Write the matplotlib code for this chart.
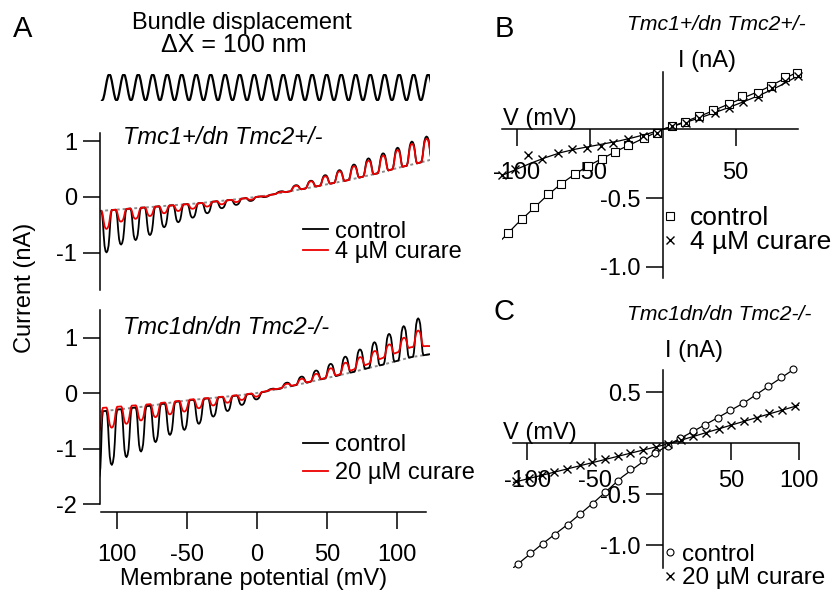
import numpy as np
import matplotlib
matplotlib.use("Agg")
import matplotlib.pyplot as plt

W, H = 840, 591

# ---------------------------------------------------------------
# Panel A, top traces (Tmc1+/dn Tmc2+/-): one entry per stimulus cycle
# cycle edges (mV), leak current at each edge (nA), extreme current of each cycle (nA)
top_edges = [-112.6, -102.3, -91.8, -81.5, -71.3, -61.2, -51.1, -40.6, -30.2, -19.8,
             -9.4, 0.9, 11.3, 22.2, 33.2, 43.6, 53.7, 64.0, 74.4, 84.8, 95.3, 105.5,
             115.8, 126.4]
top_leak = [-0.25, -0.23, -0.21, -0.19, -0.17, -0.15, -0.13, -0.11, -0.08, -0.055,
            -0.025, 0.005, 0.045, 0.095, 0.145, 0.195, 0.245, 0.295, 0.355, 0.415,
            0.485, 0.55, 0.61, 0.68]
top_control = [-0.99, -0.85, -0.77, -0.68, -0.54, -0.45, -0.37, -0.29, -0.20, -0.14,
               -0.07, 0.0, 0.10, 0.21, 0.29, 0.39, 0.48, 0.58, 0.69, 0.78, 0.88,
               0.99, 1.08]
top_curare = [-0.57, -0.44, -0.39, -0.34, -0.29, -0.25, -0.21, -0.17, -0.13, -0.09,
              -0.05, 0.01, 0.09, 0.20, 0.28, 0.37, 0.46, 0.55, 0.65, 0.74, 0.84,
              0.95, 1.04]

# Panel A, bottom traces (Tmc1dn/dn Tmc2-/-)
bot_edges = [-117.0, -109.0, -98.4, -88.0, -77.6, -67.2, -57.0, -46.6, -36.3, -26.0,
             -15.9, -5.5, 5.1, 15.8, 26.5, 37.0, 47.3, 57.8, 68.3, 78.7, 89.1, 99.6,
             110.0, 120.3, 130.0]
bot_leak = [-0.35, -0.32, -0.29, -0.26, -0.23, -0.19, -0.15, -0.12, -0.095, -0.07,
            -0.045, -0.015, 0.025, 0.08, 0.14, 0.20, 0.26, 0.32, 0.38, 0.45, 0.51,
            0.58, 0.65, 0.69, 0.73]
bot_leak_curare = [-0.28, -0.26, -0.24, -0.22, -0.20, -0.17, -0.14, -0.11, -0.09,
                   -0.065, -0.04, -0.01, 0.03, 0.085, 0.145, 0.205, 0.265, 0.33,
                   0.42, 0.52, 0.63, 0.73, 0.83, 0.85, 0.86]
bot_control = [-1.54, -1.29, -1.15, -1.05, -0.88, -0.75, -0.66, -0.55, -0.42, -0.32,
               -0.21, -0.11, 0.08, 0.19, 0.30, 0.41, 0.53, 0.66, 0.79, 0.92, 1.07,
               1.21, 1.35, 0.71]
bot_curare = [-0.69, -0.62, -0.55, -0.49, -0.43, -0.38, -0.33, -0.27, -0.22, -0.17,
              -0.12, -0.06, 0.07, 0.17, 0.26, 0.35, 0.45, 0.55, 0.65, 0.76, 0.88,
              1.00, 1.13, 0.85]

# shape of one current transient across a stimulus cycle (fraction of cycle, fraction of peak)
pulse_pos = [0.00, 0.14, 0.20, 0.25, 0.30, 0.36, 0.43, 0.50, 0.57, 0.64, 0.70, 0.75, 0.80, 0.86]
pulse_amp = [0.00, 0.00, 0.10, 0.30, 0.58, 0.84, 0.97, 1.00, 0.96, 0.84, 0.60, 0.32, 0.10, 0.00]

# bundle displacement: trough positions (mV axis) and shape of one cycle
stim_troughs = [-110.7, -100.3, -90.0, -79.6, -69.3, -58.9, -48.6, -38.2, -27.9, -17.5,
                -7.1, 3.2, 13.6, 23.9, 34.3, 44.6, 55.0, 65.4, 75.7, 86.1, 96.4,
                106.8, 117.1, 127.5]
stim_shape = [-1.0, -0.87, -0.5, 0.0, 0.5, 0.87, 1.0, 0.87, 0.5, 0.0, -0.5, -0.87]

# Panel B, I-V (Tmc1+/dn Tmc2+/-)
b_ctrl_v = [-106.2, -96.6, -88.2, -78.8, -69.7, -60.1, -51.0, -41.8, -32.7, -23.6,
            -12.8, -4.1, 6.2, 15.3, 24.9, 34.7, 45.6, 54.5, 65.5, 74.0, 83.8, 91.8]
b_ctrl_i = [-0.756, -0.655, -0.563, -0.47, -0.398, -0.325, -0.267, -0.218, -0.163,
            -0.114, -0.066, -0.024, 0.024, 0.055, 0.097, 0.14, 0.182, 0.242, 0.262,
            0.315, 0.378, 0.412]
b_cur_v = [-109.8, -101.0, -92.5, -82.9, -71.5, -61.9, -52.1, -42.3, -33.8, -23.6,
           -13.3, -4.1, 6.2, 15.8, 24.9, 35.8, 45.4, 55.2, 65.5, 74.7, 83.8, 92.9]
b_cur_i = [-0.332, -0.29, -0.187, -0.218, -0.17, -0.146, -0.138, -0.121, -0.097,
           -0.071, -0.049, -0.025, 0.024, 0.048, 0.08, 0.121, 0.157, 0.2, 0.237,
           0.298, 0.353, 0.388]
b_fit_v = [-110, -100, -90, -80, -70, -60, -50, -40, -30, -20, -10, 0, 10, 20, 30, 40,
           50, 60, 70, 80, 93]
b_fit_ctrl = [-0.80, -0.69, -0.59, -0.49, -0.40, -0.325, -0.26, -0.205, -0.15, -0.10,
              -0.05, 0.0, 0.035, 0.075, 0.115, 0.16, 0.205, 0.25, 0.295, 0.35, 0.42]
b_fit_cur = [-0.335, -0.29, -0.245, -0.205, -0.17, -0.145, -0.125, -0.105, -0.085,
             -0.06, -0.032, 0.0, 0.032, 0.065, 0.1, 0.138, 0.178, 0.22, 0.265, 0.315,
             0.39]

# Panel C, I-V (Tmc1dn/dn Tmc2-/-)
c_ctrl_v = [-107.0, -97.8, -88.6, -79.4, -70.2, -61.0, -51.8, -42.6, -33.4, -24.2,
            -15.0, -5.8, 3.4, 12.6, 21.8, 31.0, 40.2, 49.4, 58.6, 67.8, 77.0, 86.2, 95.4]
c_ctrl_i = [-1.19, -1.08, -0.99, -0.905, -0.80, -0.70, -0.595, -0.48, -0.37, -0.255,
            -0.165, -0.10, -0.025, 0.05, 0.115, 0.18, 0.25, 0.325, 0.39, 0.47, 0.555,
            0.645, 0.73]
c_cur_v = [-108.0, -98.7, -89.4, -80.1, -70.8, -61.5, -52.2, -42.9, -33.6, -24.3,
           -15.0, -5.7, 3.6, 12.9, 22.2, 31.5, 40.8, 50.1, 59.4, 68.7, 78.0, 87.3, 96.6]
c_cur_i = [-0.375, -0.345, -0.315, -0.285, -0.255, -0.22, -0.19, -0.16, -0.13, -0.10,
           -0.07, -0.04, -0.01, 0.025, 0.065, 0.10, 0.14, 0.175, 0.215, 0.25, 0.29,
           0.325, 0.36]
c_fit_ctrl_v = [-110, -90, -70, -50, -30, -10, 6, 20, 40, 60, 80, 99]
c_fit_ctrl_i = [-1.22, -1.0, -0.795, -0.57, -0.33, -0.135, 0.0, 0.10, 0.248, 0.40, 0.58, 0.75]
c_fit_cur_v = [-110, -50, 6, 50, 100]
c_fit_cur_i = [-0.385, -0.185, 0.0, 0.176, 0.372]
# ---------------------------------------------------------------

plt.rcParams['font.family'] = ['Liberation Sans', 'DejaVu Sans']
FS = 17
LW = 1.1
TICK_LEN = 12.2

fig = plt.figure(figsize=(W / 100, H / 100), dpi=100)


def add_ax(x0, y0, x1, y1):
    # axes box given in pixels of the 840x591 picture
    ax = fig.add_axes([x0 / W, 1 - y1 / H, (x1 - x0) / W, (y1 - y0) / H])
    ax.patch.set_visible(False)
    for s in ax.spines.values():
        s.set_linewidth(LW)
    return ax


def ftext(x, y, s, **kw):
    kw.setdefault('fontsize', FS)
    kw.setdefault('va', 'baseline')
    return fig.text(x / W, 1 - y / H, s, **kw)


def build_trace(edges, leak, peaks):
    v, cur = [], []
    for k in range(len(peaks)):
        v0, v1 = edges[k], edges[k + 1]
        b0, b1 = leak[k], leak[k + 1]
        bm = 0.5 * (b0 + b1)
        for f, a in zip(pulse_pos, pulse_amp):
            v.append(v0 + f * (v1 - v0))
            cur.append(b0 + f * (b1 - b0) + a * (peaks[k] - bm))
    v.append(edges[-1])
    cur.append(leak[-1])
    return v, cur


def build_stim(troughs, shape):
    v, y = [], []
    for k in range(len(troughs) - 1):
        for j, s in enumerate(shape):
            v.append(troughs[k] + j / len(shape) * (troughs[k + 1] - troughs[k]))
            y.append(s)
    return v, y


XL = (-112.5, 123.6)

# ---- stimulus ----
ax_s = add_ax(99.5, 74, 430, 100.7)
sv, sy = build_stim(stim_troughs, stim_shape)
ax_s.plot(sv, sy, color='black', lw=1.6)
ax_s.set_xlim(*XL)
ax_s.set_ylim(-1, 1)
ax_s.axis('off')

# ---- A top ----
ax1 = add_ax(99.5, 133, 430, 290)
for s in ['top', 'right', 'bottom']:
    ax1.spines[s].set_visible(False)
ax1.plot(top_edges, top_leak, color='#8c8c8c', lw=1.4, ls=(0, (1.5, 1.5)))
v, c = build_trace(top_edges, top_leak, top_control)
ax1.plot(v, c, color='black', lw=1.3, label='control')
v, c = build_trace(top_edges, top_leak, top_curare)
ax1.plot(v, c, color='#ee0000', lw=1.3, label='4 µM curare')
ax1.set_xlim(*XL)
ax1.set_ylim(-1.661, 1.143)
ax1.set_xticks([])
ax1.set_yticks([1, 0, -1])
ax1.set_yticklabels(['1', '0', '-1'])
ax1.tick_params(axis='y', direction='out', length=TICK_LEN, width=LW, pad=4, labelsize=FS)
ax1.legend(loc='center left', bbox_to_anchor=(303 / W, 1 - 242 / H),
           bbox_transform=fig.transFigure, frameon=False, fontsize=FS,
           handlelength=1.06, handletextpad=0.3, labelspacing=-0.05,
           borderpad=0, borderaxespad=0)

# ---- A bottom ----
ax2 = add_ax(99.5, 310, 430, 511.7)
for s in ['top', 'right']:
    ax2.spines[s].set_visible(False)
ax2.plot(bot_edges, bot_leak, color='#8c8c8c', lw=1.4, ls=(0, (1.5, 1.5)))
v, c = build_trace(bot_edges, bot_leak, bot_control)
ax2.plot(v, c, color='black', lw=1.3, label='control')
v, c = build_trace(bot_edges, bot_leak_curare, bot_curare)
ax2.plot(v, c, color='#ee0000', lw=1.3, label='20 µM curare')
ax2.set_xlim(*XL)
ax2.set_ylim(-2.133, 1.50)
ax2.spines['left'].set_bounds(-2, 1.5)
ax2.spines['bottom'].set_bounds(-111.4, 120.7)
ax2.set_yticks([1, 0, -1, -2])
ax2.set_yticklabels(['1', '0', '-1', '-2'])
ax2.set_xticks([-100, -50, 0, 50, 100])
ax2.set_xticklabels(['100', '-50', '0', '50', '100'])
ax2.tick_params(axis='y', direction='out', length=TICK_LEN, width=LW, pad=4, labelsize=FS)
ax2.tick_params(axis='x', direction='out', length=TICK_LEN, width=LW, pad=11, labelsize=FS)
ax2.legend(loc='center left', bbox_to_anchor=(303 / W, 1 - 459 / H),
           bbox_transform=fig.transFigure, frameon=False, fontsize=FS,
           handlelength=1.06, handletextpad=0.3, labelspacing=0.27,
           borderpad=0, borderaxespad=0)

ftext(13, 36.7, 'A', fontsize=21)
ftext(241.7, 28.5, 'Bundle displacement', ha='center')
ftext(234, 52.5, 'ΔX = 100 nm', ha='center', fontsize=18)
ftext(123, 144, 'Tmc1+/dn Tmc2+/-', style='italic')
ftext(123, 334, 'Tmc1dn/dn Tmc2-/-', style='italic')
ftext(24.5, 288, 'Current (nA)', rotation=90, ha='center', va='center')
ftext(254, 585, 'Membrane potential (mV)', ha='center')


def iv_axes(ax):
    for s in ['top', 'right']:
        ax.spines[s].set_visible(False)
    ax.spines['left'].set_position(('data', 0))
    ax.spines['bottom'].set_position(('data', 0))


# ---- B ----
axb = add_ax(501.7, 72, 798, 278)
iv_axes(axb)
axb.plot(b_fit_v, b_fit_ctrl, color='black', lw=0.9)
axb.plot(b_fit_v, b_fit_cur, color='black', lw=0.9)
axb.plot(b_ctrl_v, b_ctrl_i, ls='none', marker='s', ms=6, mfc='white', mec='black',
         mew=0.8, label='control', clip_on=False)
axb.plot(b_cur_v, b_cur_i, ls='none', marker='x', ms=5.5, color='black', mew=1.0,
         label='4 µM curare', clip_on=False)
axb.set_xlim(-110.27, 92.67)
axb.set_ylim(-1.0815, 0.4167)
axb.set_xticks([-100, -50, 50])
axb.set_xticklabels(['-100', '-50', '50'])
axb.set_yticks([-0.5, -1.0])
axb.set_yticklabels(['-0.5', '-1.0'])
axb.tick_params(axis='x', direction='out', length=TICK_LEN, width=LW, pad=11, labelsize=FS)
axb.tick_params(axis='y', direction='out', length=TICK_LEN, width=LW, pad=4, labelsize=FS)
axb.legend(loc='center left', bbox_to_anchor=(662 / W, 1 - 230 / H),
           bbox_transform=fig.transFigure, frameon=False, fontsize=19,
           handlelength=0.6, handletextpad=0.45, labelspacing=0.0,
           borderpad=0, borderaxespad=0)

ftext(495, 36.7, 'B', fontsize=21)
ftext(626.7, 30, 'Tmc1+/dn Tmc2+/-', style='italic', fontsize=15.2)
ftext(678, 67, 'I (nA)')
ftext(503.3, 125.3, 'V (mV)')

# ---- C ----
axc = add_ax(513, 370, 799.3, 568)
iv_axes(axc)
axc.plot(c_fit_ctrl_v, c_fit_ctrl_i, color='black', lw=0.9)
axc.plot(c_fit_cur_v, c_fit_cur_i, color='black', lw=0.9)
axc.plot(c_ctrl_v, c_ctrl_i, ls='none', marker='o', ms=5, mfc='white', mec='black',
         mew=0.8, label='control', clip_on=False)
axc.plot(c_cur_v, c_cur_i, ls='none', marker='x', ms=5.5, color='black', mew=1.0,
         label='20 µM curare', clip_on=False)
axc.set_xlim(-110.5, 100)
axc.set_ylim(-1.225, 0.716)
axc.set_xticks([-100, -50, 50, 100])
axc.set_xticklabels(['-100', '-50', '50', '100'])
axc.set_yticks([0.5, -0.5, -1.0])
axc.set_yticklabels(['0.5', '-0.5', '-1.0'])
axc.tick_params(axis='x', direction='out', length=TICK_LEN, width=LW, pad=7, labelsize=FS)
axc.tick_params(axis='y', direction='out', length=TICK_LEN, width=LW, pad=4, labelsize=FS)
axc.legend(loc='center left', bbox_to_anchor=(664 / W, 1 - 566.5 / H),
           bbox_transform=fig.transFigure, frameon=False, fontsize=17.5,
           handlelength=0.5, handletextpad=0.25, labelspacing=0.08,
           borderpad=0, borderaxespad=0)

ftext(493.3, 320, 'C', fontsize=21)
ftext(626.7, 320, 'Tmc1dn/dn Tmc2-/-', style='italic', fontsize=15.2)
ftext(665, 357, 'I (nA)')
ftext(503.3, 438.7, 'V (mV)')

fig.savefig('out.png', dpi=100)
